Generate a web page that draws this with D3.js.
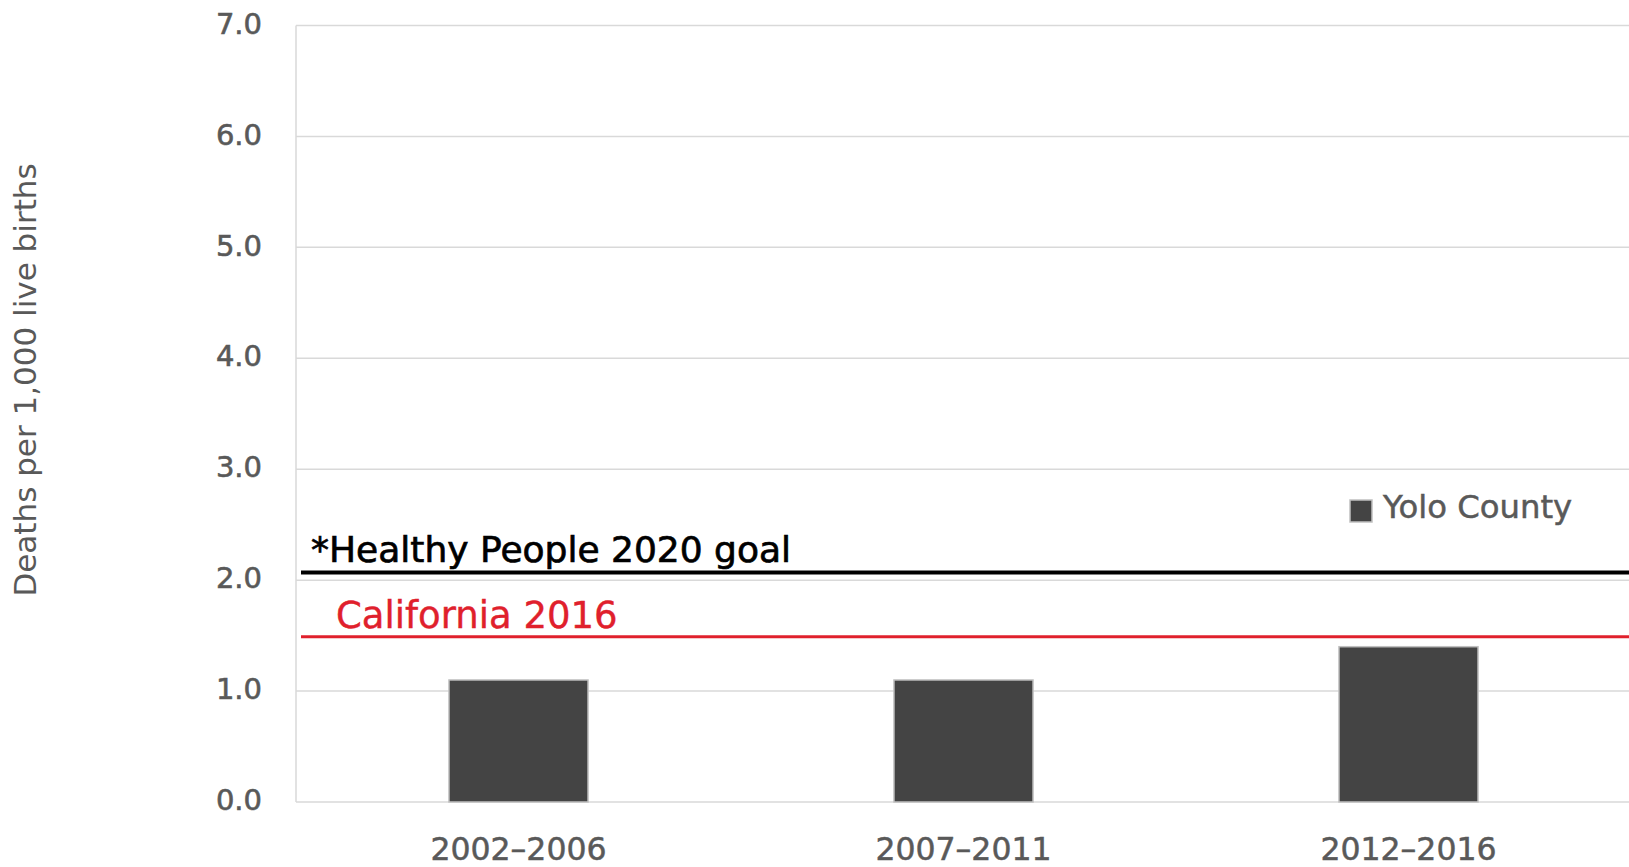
<!DOCTYPE html>
<html>
<head>
<meta charset="utf-8">
<script src="https://cdn.jsdelivr.net/npm/d3@7"></script>
<style>
  html, body { margin: 0; padding: 0; background: #ffffff; }
  svg { display: block; font-family: "DejaVu Sans", sans-serif; }
</style>
</head>
<body>
<svg id="chart" width="1629" height="867"></svg>
<script>
// ---- data ----
const categories = ["2002–2006", "2007–2011", "2012–2016"];
const yoloValues = [1.1, 1.1, 1.4];
const seriesName = "Yolo County";
const yTicks = [0, 1, 2, 3, 4, 5, 6, 7];
const refNames = ["*Healthy People 2020 goal", "California 2016"];
const refValues = [2.07, 1.49];
const refColors = ["#000000", "#e0202c"];
const yAxisTitle = "Deaths per 1,000 live births";

// ---- layout ----
const svg = d3.select("#chart");
const plot = { left: 296, right: 1631, top: 25.5, bottom: 802 };

const y = d3.scaleLinear().domain([0, 7]).range([plot.bottom, plot.top]);
const x = d3.scaleBand().domain(categories).range([plot.left, plot.right]);
const barW = x.bandwidth() * 0.3125;

// gridlines
svg.append("g").selectAll("line").data(yTicks).join("line")
  .attr("x1", plot.left).attr("x2", 1629)
  .attr("y1", d => y(d)).attr("y2", d => y(d))
  .attr("stroke", "#d9d9d9").attr("stroke-width", 1.5);

// left axis line
svg.append("line")
  .attr("x1", plot.left).attr("x2", plot.left)
  .attr("y1", y(7)).attr("y2", y(0))
  .attr("stroke", "#d9d9d9").attr("stroke-width", 1.5);

// y tick labels
svg.append("g").selectAll("text").data(yTicks).join("text")
  .attr("x", 262).attr("y", d => y(d) - 2)
  .attr("dy", "0.35em")
  .attr("text-anchor", "end")
  .attr("font-size", 29)
  .attr("fill", "#595959")
  .attr("stroke", "#595959").attr("stroke-width", 0.6)
  .text(d => d.toFixed(1));

// y axis title
svg.append("text")
  .attr("transform", "translate(36,380) rotate(-90)")
  .attr("text-anchor", "middle")
  .attr("font-size", 31)
  .attr("fill", "#595959")
  .text(yAxisTitle);

// bars
svg.append("g").selectAll("rect").data(yoloValues).join("rect")
  .attr("x", (d, i) => x(categories[i]) + (x.bandwidth() - barW) / 2)
  .attr("y", d => y(d))
  .attr("width", barW)
  .attr("height", d => y(0) - y(d))
  .attr("fill", "#444444")
  .attr("stroke", "#c0c0c0")
  .attr("stroke-width", 1.5);

// x labels
svg.append("g").selectAll("text").data(categories).join("text")
  .attr("x", d => x(d) + x.bandwidth() / 2)
  .attr("y", 860)
  .attr("text-anchor", "middle")
  .attr("font-size", 31.5)
  .attr("fill", "#595959")
  .attr("stroke", "#595959").attr("stroke-width", 0.5)
  .text(d => d);

// reference lines
const refWidths = [4, 3];
svg.append("g").selectAll("line").data(refValues).join("line")
  .attr("x1", 301).attr("x2", 1629)
  .attr("y1", d => y(d)).attr("y2", d => y(d))
  .attr("stroke", (d, i) => refColors[i])
  .attr("stroke-width", (d, i) => refWidths[i]);

const refLabelX = [311, 336];
const refLabelDy = [-10, -9];
const refLabelSize = [36, 37];
svg.append("g").selectAll("text").data(refValues).join("text")
  .attr("x", (d, i) => refLabelX[i])
  .attr("y", (d, i) => y(d) + refLabelDy[i])
  .attr("font-size", (d, i) => refLabelSize[i])
  .attr("fill", (d, i) => refColors[i])
  .attr("stroke", (d, i) => refColors[i])
  .attr("stroke-width", (d, i) => i === 0 ? 0.7 : 0.4)
  .text((d, i) => refNames[i]);

// legend
svg.append("rect")
  .attr("x", 1350).attr("y", 500).attr("width", 22).attr("height", 22)
  .attr("fill", "#444444").attr("stroke", "#c0c0c0").attr("stroke-width", 1.5);
svg.append("text")
  .attr("x", 1383).attr("y", 518)
  .attr("font-size", 32.3)
  .attr("fill", "#595959")
  .attr("stroke", "#595959").attr("stroke-width", 0.5)
  .text(seriesName);
</script>
</body>
</html>
